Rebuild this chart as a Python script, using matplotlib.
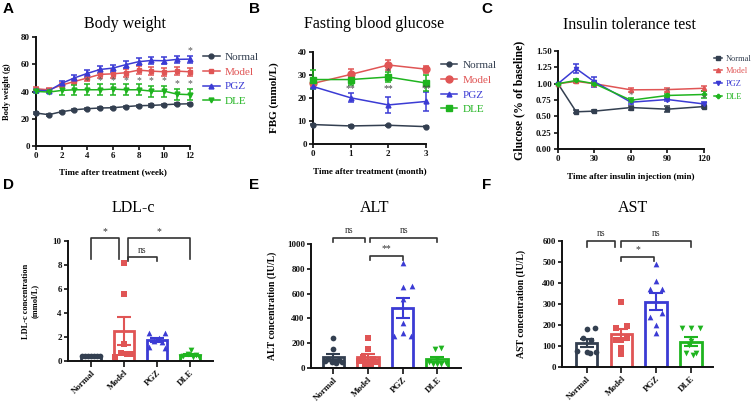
import numpy as np
import matplotlib
matplotlib.use('Agg')
import matplotlib.pyplot as plt
from matplotlib.lines import Line2D

SERIF = 'Liberation Serif'
groups = ['Normal', 'Model', 'PGZ', 'DLE']
colors = ['#333f50', '#e05555', '#3b3bd4', '#1fb41f']

# ---- A: body weight ----
weeks = list(range(13))
bw_normal = [24.2, 23.0, 25.2, 26.6, 27.4, 27.9, 28.1, 28.9, 29.6, 29.8, 30.3, 30.8, 31.0]
bw_model = [42.0, 41.3, 44.7, 47.4, 49.9, 52.6, 53.0, 53.8, 55.7, 55.0, 54.5, 55.0, 54.5]
bw_pgz = [41.0, 40.5, 46.0, 50.0, 53.3, 56.2, 57.2, 59.7, 61.9, 62.8, 62.6, 63.6, 63.8]
bw_dle = [40.1, 39.6, 40.8, 41.3, 41.3, 41.3, 41.8, 41.3, 41.3, 40.3, 40.3, 38.1, 37.7]
bw_normal_err = [0.8] * 13
bw_model_err = [1.0, 1.0, 1.5, 2.0, 2.5, 3.0, 3.0, 3.0, 3.0, 3.0, 3.0, 3.0, 3.0]
bw_pgz_err = [1.0, 1.0, 1.5, 2.0, 2.5, 2.5, 2.5, 2.5, 2.5, 2.5, 2.5, 2.5, 2.5]
bw_dle_err = [1.0, 1.0, 3.0, 3.5, 4.0, 4.0, 4.0, 4.0, 4.0, 4.0, 4.0, 4.0, 4.0]
bw_star_x = [4, 5, 6, 7, 8, 9, 10, 11, 12, 12]
bw_star_y = [48, 48, 48, 48, 48, 48, 48, 46, 46, 70]

# ---- B: fasting blood glucose ----
months = [0, 1, 2, 3]
fbg_normal = [8.5, 7.9, 8.2, 7.6]
fbg_model = [26.3, 30.2, 34.3, 32.5]
fbg_pgz = [25.0, 20.1, 17.0, 18.5]
fbg_dle = [28.0, 28.0, 29.1, 26.5]
fbg_normal_err = [0.3, 0.3, 0.3, 0.3]
fbg_model_err = [1.0, 2.5, 2.0, 1.5]
fbg_pgz_err = [0.5, 2.0, 3.5, 4.0]
fbg_dle_err = [4.0, 2.5, 2.0, 3.5]
fbg_star_x = [1, 2, 3, 2]
fbg_star_y = [24.0, 24.0, 24.0, 31.3]
fbg_star_txt = ['**', '**', '**', '*']

# ---- C: insulin tolerance test ----
minutes = [0, 15, 30, 60, 90, 120]
itt_normal = [1.0, 0.57, 0.58, 0.635, 0.61, 0.65]
itt_model = [1.0, 1.035, 1.0, 0.906, 0.91, 0.93]
itt_pgz = [1.0, 1.23, 1.03, 0.717, 0.758, 0.69]
itt_dle = [1.0, 1.05, 1.0, 0.747, 0.82, 0.835]
itt_normal_err = [0.0, 0.02, 0.02, 0.03, 0.05, 0.02]
itt_model_err = [0.0, 0.02, 0.02, 0.03, 0.03, 0.04]
itt_pgz_err = [0.0, 0.07, 0.08, 0.03, 0.03, 0.03]
itt_dle_err = [0.0, 0.02, 0.02, 0.03, 0.03, 0.05]
itt_star_x = [60, 90, 120]
itt_star_y = [0.82, 0.875, 0.77]

# ---- D/E/F: individual values ----
ldl = {
    'Normal': [0.45, 0.42, 0.40, 0.40, 0.38, 0.42, 0.40],
    'Model': [8.2, 5.6, 1.4, 0.7, 0.6, 0.55, 0.3],
    'PGZ': [2.3, 2.3, 1.9, 1.7, 1.6, 1.2, 1.1],
    'DLE': [0.9, 0.6, 0.5, 0.45, 0.35, 0.3, 0.3],
}
alt = {
    'Normal': [240, 150, 75, 65, 55, 50, 45, 40],
    'Model': [240, 150, 90, 75, 55, 45, 35, 30],
    'PGZ': [845, 660, 650, 560, 360, 280, 255, 255],
    'DLE': [160, 150, 70, 50, 40, 35, 30, 30],
}
ast = {
    'Normal': [185, 180, 140, 130, 75, 70, 70, 65],
    'Model': [310, 195, 185, 140, 130, 130, 90, 60],
    'PGZ': [490, 410, 370, 370, 255, 240, 200, 160],
    'DLE': [185, 185, 185, 125, 105, 65, 65, 55],
}
# horizontal spread of the dots (layout only)
ldl_off = {
    'Normal': [-0.27, -0.18, -0.09, 0, 0.09, 0.18, 0.27],
    'Model': [0, 0, 0, -0.1, 0.08, 0.23, -0.27],
    'PGZ': [-0.25, 0.25, 0.07, -0.1, 0.15, -0.25, 0.25],
    'DLE': [0.05, -0.05, 0.2, -0.2, 0.1, -0.28, 0.28],
}
alt_off = {
    'Normal': [0, 0, -0.15, 0.15, -0.25, 0.25, -0.05, 0.08],
    'Model': [0, 0, -0.15, 0.15, -0.25, 0.25, -0.08, 0.08],
    'PGZ': [0, 0.26, 0, 0, 0, 0, -0.25, 0.25],
    'DLE': [0.12, -0.05, 0, -0.25, 0.25, -0.12, 0.12, 0],
}
ast_off = {
    'Normal': [0.25, 0, -0.1, 0.12, -0.28, 0, 0.28, 0.1],
    'Model': [0, 0.16, -0.16, 0.16, -0.16, 0, 0, 0],
    'PGZ': [0, 0, -0.17, 0.17, 0.17, -0.17, 0, 0],
    'DLE': [-0.25, 0, 0.25, 0, -0.05, -0.15, 0.15, 0.05],
}
# comparisons: (x_left, x_right, top, leg_bottom, label, text_y)
ldl_comp = [(0, 0.85, 10.3, 8.5, '*', 10.45), (1.12, 3.0, 10.3, 8.5, '*', 10.45),
            (1.12, 2.0, 8.65, 8.35, 'ns', 8.85)]
alt_comp = [(0, 0.9, 1048, 1016, 'ns', 1070), (1.07, 3.0, 1048, 1016, 'ns', 1070),
            (1.07, 2.0, 906, 874, '**', 925)]
ast_comp = [(0, 0.82, 600, 571, 'ns', 615), (1.0, 3.0, 600, 571, 'ns', 615),
            (1.0, 1.95, 525, 506, '*', 537)]

fig = plt.figure(figsize=(7.54, 4.05), dpi=100)
fig.patch.set_facecolor('white')


def style_axes(ax, tick_fs=6.5):
    for s in ['top', 'right']:
        ax.spines[s].set_visible(False)
    for s in ['left', 'bottom']:
        ax.spines[s].set_linewidth(1.4)
        ax.spines[s].set_color('#111111')
    ax.tick_params(direction='out', length=3, width=1.2, colors='#111111', pad=1.5)
    for lab in ax.get_xticklabels() + ax.get_yticklabels():
        lab.set_fontfamily(SERIF)
        lab.set_fontweight('bold')
        lab.set_fontsize(tick_fs)


def line_panel(ax, x, ys, errs, markers, msizes):
    for y, e, c, m, ms in zip(ys, errs, colors, markers, msizes):
        ax.errorbar(x, y, yerr=e, color=c, marker=m, ms=ms, lw=1.1, elinewidth=1.1,
                    capsize=2.5, capthick=1.1, clip_on=False, zorder=3)


def add_legend(ax, markers, msizes, anchor, fs, spacing, hl=1.5):
    handles = [Line2D([0], [0], color=c, marker=m, ms=ms, lw=1.1)
               for c, m, ms in zip(colors, markers, msizes)]
    ax.legend(handles, groups, loc='upper left', bbox_to_anchor=anchor,
              bbox_transform=fig.transFigure, frameon=False,
              prop={'family': SERIF, 'size': fs}, labelcolor=colors,
              handlelength=hl, handletextpad=0.45, labelspacing=spacing, borderpad=0)


def lab(ax, xl, yl, xy, yy, xfs=6.5, yfs=6.5):
    ax.set_xlabel(xl, fontfamily=SERIF, fontweight='bold', fontsize=xfs)
    ax.set_ylabel(yl, fontfamily=SERIF, fontweight='bold', fontsize=yfs)
    ax.xaxis.set_label_coords(0.5, xy)
    ax.yaxis.set_label_coords(yy, 0.5)


# ===== A =====
axA = fig.add_axes([0.0477, 0.6395, 0.204, 0.269])
mA = ['o', 's', '^', 'v']
line_panel(axA, weeks, [bw_normal, bw_model, bw_pgz, bw_dle],
           [bw_normal_err, bw_model_err, bw_pgz_err, bw_dle_err], mA, [3.5, 3.5, 3.5, 3.5])
for sx, sy in zip(bw_star_x, bw_star_y):
    axA.text(sx, sy, '*', ha='center', va='center', fontsize=7, color='#555555',
             fontfamily=SERIF, zorder=6)
axA.set_xlim(0, 12)
axA.set_ylim(0, 80)
axA.set_xticks([0, 2, 4, 6, 8, 10, 12])
axA.set_yticks([0, 20, 40, 60, 80])
style_axes(axA)
lab(axA, 'Time after treatment (week)', 'Body weight (g)', -0.2, -0.16, 6.5, 6)
add_legend(axA, mA, [3.5] * 4, (0.262, 0.885), 8, 0.45)

# ===== B =====
axB = fig.add_axes([0.415, 0.644, 0.15, 0.228])
mB = ['o', 'o', '^', 's']
line_panel(axB, months, [fbg_normal, fbg_model, fbg_pgz, fbg_dle],
           [fbg_normal_err, fbg_model_err, fbg_pgz_err, fbg_dle_err], mB, [3.5, 5, 3.5, 4])
for sx, sy, t in zip(fbg_star_x, fbg_star_y, fbg_star_txt):
    axB.text(sx, sy, t, ha='center', va='center', fontsize=7, color='#444444',
             fontfamily=SERIF, zorder=6)
axB.set_xlim(0, 3)
axB.set_ylim(0, 40)
axB.set_xticks(months)
axB.set_yticks([0, 10, 20, 30, 40])
style_axes(axB)
lab(axB, 'Time after treatment (month)', 'FBG (mmol/L)', -0.25, -0.3, 6.5, 8)
add_legend(axB, mB, [3.5, 5, 3.5, 4], (0.577, 0.865), 8, 0.45)

# ===== C =====
axC = fig.add_axes([0.740, 0.632, 0.1936, 0.242])
mC = ['s', '^', 'v', 'P']
line_panel(axC, minutes, [itt_normal, itt_model, itt_pgz, itt_dle],
           [itt_normal_err, itt_model_err, itt_pgz_err, itt_dle_err], mC, [3, 3, 3, 3])
for sx, sy in zip(itt_star_x, itt_star_y):
    axC.text(sx, sy, '*', ha='center', va='center', fontsize=6.5, color='#666666',
             fontfamily=SERIF, zorder=6)
axC.set_xlim(0, 120)
axC.set_ylim(0, 1.5)
axC.set_xticks(minutes[:1] + minutes[2:])
axC.set_yticks([0, 0.25, 0.5, 0.75, 1.0, 1.25, 1.5])
axC.set_yticklabels(['0.00', '0.25', '0.50', '0.75', '1.00', '1.25', '1.50'])
style_axes(axC)
lab(axC, 'Time after insulin injection (min)', 'Glucose (% of baseline)', -0.24, -0.225, 6.5, 8.5)
add_legend(axC, mC, [3] * 4, (0.941, 0.875), 6, 0.55, hl=1.0)


# ===== bar panels =====
def bar_panel(rect, data, offs, comps, ylim, yticks, ylabel, ylab_x, ylab_fs, xlim):
    ax = fig.add_axes(rect)
    mk = ['o', 's', '^', 'v']
    for i, (g, c, m) in enumerate(zip(groups, colors, mk)):
        v = np.array(data[g], dtype=float)
        mean = v.mean()
        sem = v.std(ddof=1) / np.sqrt(len(v))
        ax.bar(i, mean, width=0.62, facecolor='white', edgecolor=c, linewidth=2, zorder=2)
        ax.scatter(i + np.array(offs[g]), v, marker=m, color=c, s=17, zorder=3,
                   linewidths=0, clip_on=False)
        ax.errorbar(i, mean, yerr=sem, color=c, capsize=5, elinewidth=1.5, capthick=1.5,
                    zorder=4)
    for x0, x1, top, bot, t, ty in comps:
        ax.plot([x0, x0, x1, x1], [bot, top, top, bot], color='#333333', lw=1.2,
                clip_on=False, zorder=5)
        ax.text((x0 + x1) / 2, ty, t, ha='center', va='bottom', fontsize=7,
                fontfamily=SERIF, color='#333333')
    ax.set_xlim(*xlim)
    ax.set_ylim(*ylim)
    ax.set_yticks(yticks)
    ax.set_xticks(range(4))
    ax.set_xticklabels(groups, rotation=45, ha='right', rotation_mode='anchor')
    style_axes(ax)
    ax.tick_params(axis='x', length=4)
    ax.set_ylabel(ylabel, fontfamily=SERIF, fontweight='bold', fontsize=ylab_fs,
                  linespacing=1.1)
    ax.yaxis.set_label_coords(ylab_x, 0.5)
    return ax


axD = bar_panel([0.0902, 0.1086, 0.1923, 0.296], ldl, ldl_off, ldl_comp, (0, 10),
                [0, 2, 4, 6, 8, 10], 'LDL-c concentration\n(mmol/L)', -0.2, 6, (-0.71, 3.71))
axE = bar_panel([0.4125, 0.0914, 0.199, 0.306], alt, alt_off, alt_comp, (0, 1000),
                [0, 200, 400, 600, 800, 1000], 'ALT concentration (IU/L)', -0.23, 7, (-0.65, 3.69))
axF = bar_panel([0.7454, 0.0938, 0.2003, 0.311], ast, ast_off, ast_comp, (0, 600),
                [0, 100, 200, 300, 400, 500, 600], 'AST concentration (IU/L)', -0.24, 7, (-0.71, 3.64))

# titles
for x, y, t in [(125, 24, 'Body weight'), (374, 24, 'Fasting blood glucose'),
                (629, 25, 'Insulin tolerance test'), (133, 208, 'LDL-c'),
                (375, 208, 'ALT'), (633, 208, 'AST')]:
    fig.text(x / 754, 1 - y / 405, t, ha='center', va='center', fontsize=11.5, fontfamily=SERIF)

# panel letters
for x, y, t in [(8, 9, 'A'), (254, 9, 'B'), (487, 9, 'C'),
                (8, 185, 'D'), (254, 185, 'E'), (487, 185, 'F')]:
    fig.text(x / 754, 1 - y / 405, t, ha='center', va='center', fontsize=11,
             fontweight='bold', fontfamily='Liberation Sans')

fig.savefig('out.png', dpi=100, facecolor='white')
